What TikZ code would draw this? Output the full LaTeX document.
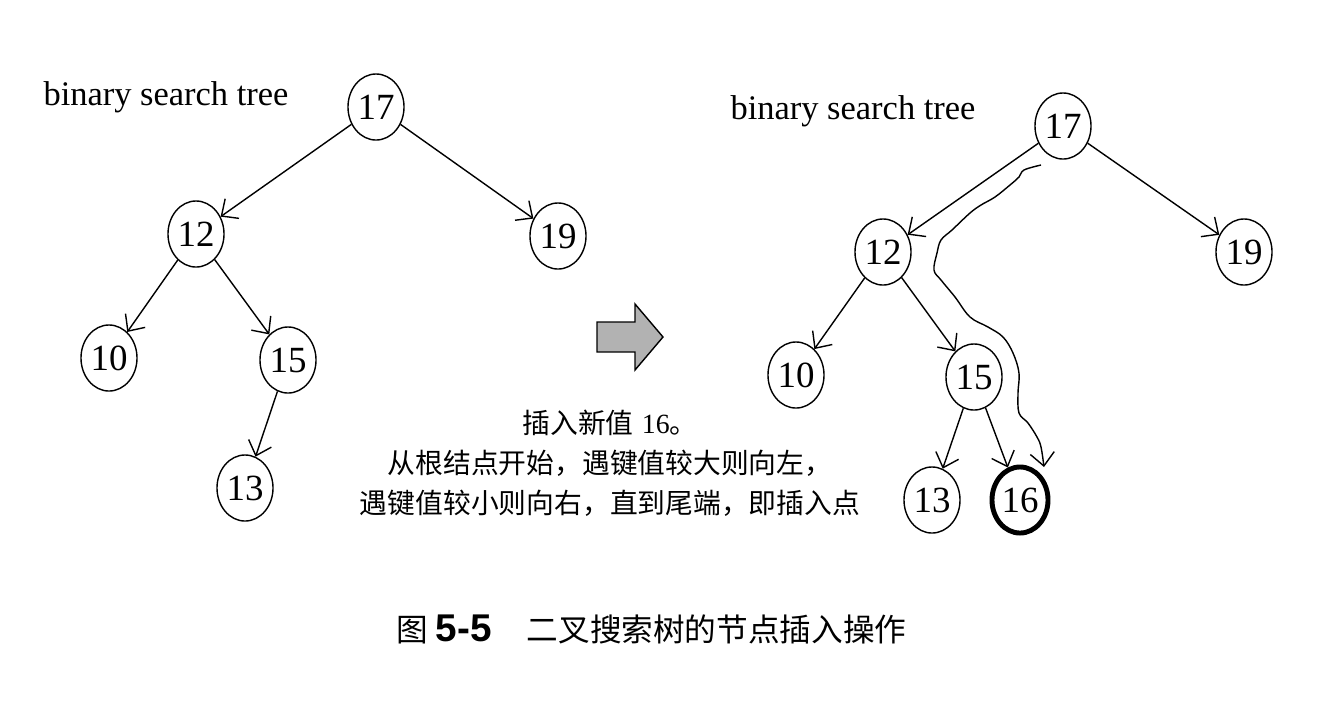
\documentclass[tikz,border=0pt]{standalone}
\usepackage{fontspec}
\setmainfont{Liberation Serif}
\newfontfamily\cjk{Noto Sans CJK SC}
\newfontfamily\capsans{Liberation Sans}
\usetikzlibrary{arrows.meta,shapes.geometric}

\begin{document}
\begin{tikzpicture}[x=0.01cm,y=-0.01cm,
    key/.style={draw,ellipse,minimum width=0.56cm,minimum height=0.66cm,inner sep=0pt,font=\fontsize{10.5}{10.5}\selectfont},
    newkey/.style={key,line width=1.4pt},
    link/.style={-{Straight Barb[length=1.3mm,width=2.4mm]}},
    title/.style={font=\fontsize{9.8}{10}\selectfont}]
    \useasboundingbox (0,0) rectangle (1330,708);
    \node[title] (lefttitle) at (166,97) {binary search tree};
    \node[key] (a17) at (376,107) {17};
    \node[key] (a12) at (196,234) {12};
    \node[key] (a19) at (558,236) {19};
    \node[key] (a10) at (109,358) {10};
    \node[key] (a15) at (288,360) {15};
    \node[key] (a13) at (245,488) {13};
    \draw[link] (a17) -- (a12);
    \draw[link] (a17) -- (a19);
    \draw[link] (a12) -- (a10);
    \draw[link] (a12) -- (a15);
    \draw[link] (a15) -- (a13);
    \draw[fill=gray!60] (597,322) -- (635,322) -- (635,304) -- (663,337)
        -- (635,370) -- (635,352) -- (597,352) -- cycle;
    \node[title] (righttitle) at (853,111) {binary search tree};
    \node[key] (b17) at (1063,126) {17};
    \node[key] (b12) at (883,252) {12};
    \node[key] (b19) at (1244,252) {19};
    \node[key] (b10) at (796,375) {10};
    \node[key] (b15) at (974,377) {15};
    \node[key] (b13) at (932,500) {13};
    \node[newkey] (b16) at (1020,500) {16};
    \draw[link] (b17) -- (b12);
    \draw[link] (b17) -- (b19);
    \draw[link] (b12) -- (b10);
    \draw[link] (b12) -- (b15);
    \draw[link] (b15) -- (b13);
    \draw[link] (b15) -- (b16);
    \draw[link] plot[smooth,tension=0.6] coordinates {(1041,165) (1024,170) (1019,177)
        (1010,185) (995,197) (981,205) (970,213) (952,230) (941,240) (937,253)
        (934,270) (941,280) (955,297) (970,317) (988,327) (1003,337) (1013,353)
        (1019,373) (1018,393) (1019,413) (1028,423) (1037,437) (1041,447) (1044,467)};
    \node[font=\cjk\fontsize{7.9}{11.4}\selectfont,align=center] (note) at (610,463)
        {插入新值\hspace{0.3em}{\rmfamily 16}。\\从根结点开始，遇键值较大则向左，\\遇键值较小则向右，直到尾端，即插入点};
    \node[font=\cjk\fontsize{9}{9}\selectfont,anchor=west] (caption) at (384,629)
        {图\hspace{0.25em}{\capsans\bfseries\fontsize{11}{11}\selectfont 5-5}\hspace{1.1em}二叉搜索树的节点插入操作};
\end{tikzpicture}
\end{document}
